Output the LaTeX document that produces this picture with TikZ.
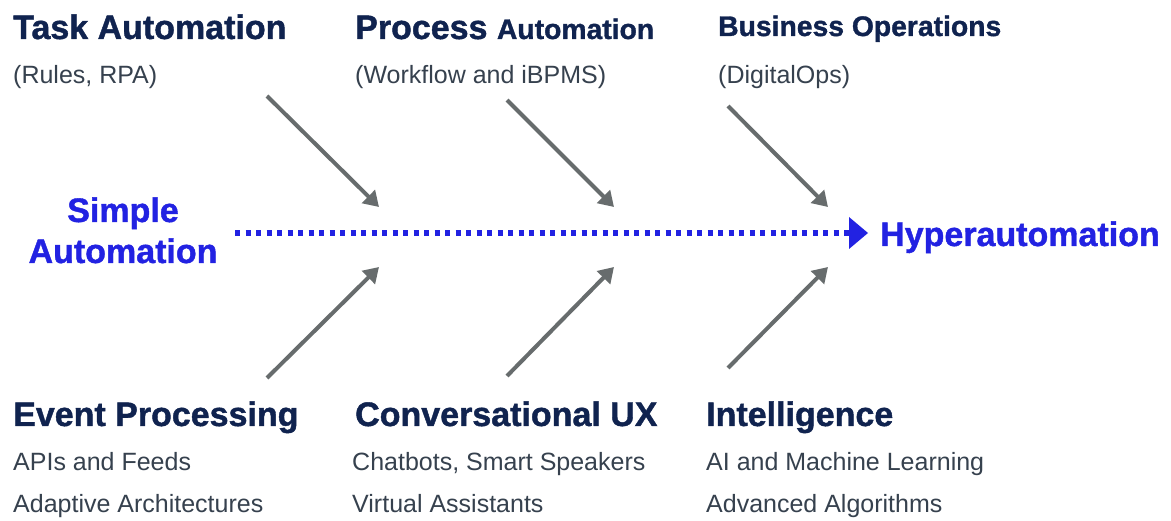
\documentclass[tikz,border=0pt]{standalone}
\usepackage{fontspec}
\setmainfont{Liberation Sans}[BoldFeatures={FakeBold=1.2}]
\usetikzlibrary{arrows.meta}
\definecolor{navy}{HTML}{10234F}
\definecolor{subgray}{HTML}{36414E}
\definecolor{arrgray}{HTML}{676C6D}
\definecolor{vblue}{HTML}{2222E2}
\tikzset{
  head/.style={anchor=base west, inner sep=0pt, text=navy, font=\bfseries\fontsize{34}{40}\selectfont},
  headsmall/.style={head, font=\bfseries\fontsize{28.3}{34}\selectfont},
  sub/.style={anchor=base west, inner sep=0pt, text=subgray, font=\fontsize{25}{30}\selectfont},
  bluetxt/.style={anchor=base, inner sep=0pt, text=vblue, font=\bfseries\fontsize{34}{40}\selectfont},
  feeder/.style={draw=arrgray, line width=4pt, -{Triangle[length=15pt,width=18pt]}},
  mainline/.style={draw=vblue, line width=6pt, dash pattern=on 5pt off 5.5pt},
}
\begin{document}
\begin{tikzpicture}[x=1pt,y=-1pt]
\useasboundingbox[fill=white] (0,0) rectangle (1171,521);
% top headings
\node[head] (ta) at (13,39) {Task Automation};
\node[sub] (tas) at (13,84) {(Rules, RPA)};
\node[head] (pa) at (355,39) {Process \fontsize{28.3}{34}\selectfont Automation};
\node[sub] (pas) at (355,84) {(Workflow and iBPMS)};
\node[headsmall] (bo) at (718,36) {Business Operations};
\node[sub] (bos) at (718,84) {(DigitalOps)};
% bottom headings
\node[head] (ep) at (13,426) {Event Processing};
\node[sub] (ep1) at (13,471) {APIs and Feeds};
\node[sub] (ep2) at (13,512) {Adaptive Architectures};
\node[head] (cu) at (355,426) {Conversational UX};
\node[sub] (cu1) at (352,471) {Chatbots, Smart Speakers};
\node[sub] (cu2) at (352,512) {Virtual Assistants};
\node[head] (in) at (706,426) {Intelligence};
\node[sub] (in1) at (706,471) {AI and Machine Learning};
\node[sub] (in2) at (706,512) {Advanced Algorithms};
% main axis
\node[bluetxt] (simple1) at (123,222) {Simple};
\node[bluetxt] (simple2) at (123,263) {Automation};
\node[bluetxt, anchor=base west] (hyper) at (880,246) {Hyperautomation};
\coordinate (lineS) at (235,233);
\coordinate (lineE) at (868,233);
\draw[mainline] (lineS) -- ([xshift=-17pt]lineE);
\fill[vblue] (lineE) -- ++(-19,-16) -- ++(0,32) -- cycle;
% feeder arrows
\coordinate (t1s) at (267,96);  \coordinate (t1e) at (379,207);
\coordinate (t2s) at (507,100); \coordinate (t2e) at (614,207);
\coordinate (t3s) at (728,106); \coordinate (t3e) at (828,207);
\coordinate (b1s) at (267,378); \coordinate (b1e) at (379,267);
\coordinate (b2s) at (507,376); \coordinate (b2e) at (614,267);
\coordinate (b3s) at (728,368); \coordinate (b3e) at (828,267);
\draw[feeder] (t1s) -- (t1e);
\draw[feeder] (t2s) -- (t2e);
\draw[feeder] (t3s) -- (t3e);
\draw[feeder] (b1s) -- (b1e);
\draw[feeder] (b2s) -- (b2e);
\draw[feeder] (b3s) -- (b3e);
\end{tikzpicture}
\end{document}
